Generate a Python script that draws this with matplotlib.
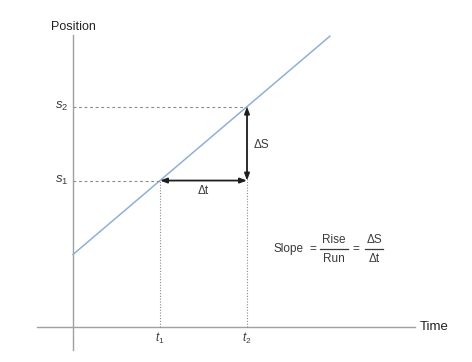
import matplotlib.pyplot as plt

plt.rcParams['font.family'] = ['Liberation Sans', 'DejaVu Sans']
plt.rcParams['mathtext.fontset'] = 'custom'
plt.rcParams['mathtext.rm'] = 'Liberation Sans'
plt.rcParams['mathtext.it'] = 'Liberation Sans:italic'

# -----------------------------
# Datos (unidades del grafico)
# -----------------------------
line_t = [0.0, 8.86]
line_s = [2.5, 10.03]
t_points = [3.0, 6.0]
s_points = [5.05, 7.6]
t_labels = ['$t_1$', '$t_2$']
s_labels = ['$s_1$', '$s_2$']

fig = plt.figure(figsize=(4.72, 3.62), dpi=100)
ax = fig.add_axes([0, 0, 1, 1])
px = 29.0
ax.set_xlim(-73 / px, (472 - 73) / px)
ax.set_ylim(-(362 - 327) / px, 327 / px)
ax.axis('off')


def P(x, y):
    # pixel de la imagen -> unidades de datos
    return (x - 73) / px, (327 - y) / px


axis_color = '#a0a0a0'
guide_color = '#8a8a8a'
txt_color = '#3a3a3a'
ax.plot([-36 / px, 342 / px], [0, 0], color=axis_color, lw=1.0)
ax.plot([0, 0], [-23 / px, 292 / px], color=axis_color, lw=1.0)

# linea principal
ax.plot(line_t, line_s, color='#8fb0d8', lw=1.1)

# guias punteadas
for t, s in zip(t_points, s_points):
    ax.plot([0, t], [s, s], color=guide_color, lw=0.8, ls=(0, (2.5, 2.5)))
    ax.plot([t, t], [0, s], color=guide_color, lw=0.8, ls=(0, (1, 1.5)))

# flechas delta
arrow = dict(arrowstyle='<|-|>,head_length=0.4,head_width=0.15', color='#1e1e1e', lw=1.3,
             shrinkA=0, shrinkB=0)
ax.annotate('', xy=(t_points[1], s_points[0]), xytext=(t_points[0], s_points[0]), arrowprops=arrow)
ax.annotate('', xy=(t_points[1], s_points[1]), xytext=(t_points[1], s_points[0]), arrowprops=arrow)

fs = 8.5
ax.text(*P(203, 191), '\u0394t', ha='center', va='center', fontsize=fs, color=txt_color)
ax.text(*P(254, 145), '\u0394S', ha='left', va='center', fontsize=fs, color=txt_color)

# etiquetas de ejes
for t, lab in zip(t_points, t_labels):
    ax.text(t, -11 / px, lab, ha='center', va='center', fontsize=8.5, color=txt_color)
for s, lab in zip(s_points, s_labels):
    ax.text(-11 / px, s, lab, ha='center', va='center', fontsize=9.5, color=txt_color)

ax.text(0, 300 / px, 'Position', ha='center', va='center', fontsize=9, color='#222222')
ax.text(347 / px, 0, 'Time', ha='left', va='center', fontsize=9.5, color='#222222')

# formula de la pendiente
ax.text(*P(273, 249), 'Slope', ha='left', va='center', fontsize=fs, color=txt_color)
ax.text(*P(313, 249), '=', ha='center', va='center', fontsize=fs, color=txt_color)
ax.plot(*zip(P(320, 249), P(348, 249)), color=txt_color, lw=0.9)
ax.text(*P(334, 240), 'Rise', ha='center', va='center', fontsize=fs, color=txt_color)
ax.text(*P(334, 259), 'Run', ha='center', va='center', fontsize=fs, color=txt_color)
ax.text(*P(356, 249), '=', ha='center', va='center', fontsize=fs, color=txt_color)
ax.plot(*zip(P(365, 249), P(383, 249)), color=txt_color, lw=0.9)
ax.text(*P(374, 240), '\u0394S', ha='center', va='center', fontsize=fs, color=txt_color)
ax.text(*P(374, 259), '\u0394t', ha='center', va='center', fontsize=fs, color=txt_color)

fig.savefig('out.png', dpi=100)
